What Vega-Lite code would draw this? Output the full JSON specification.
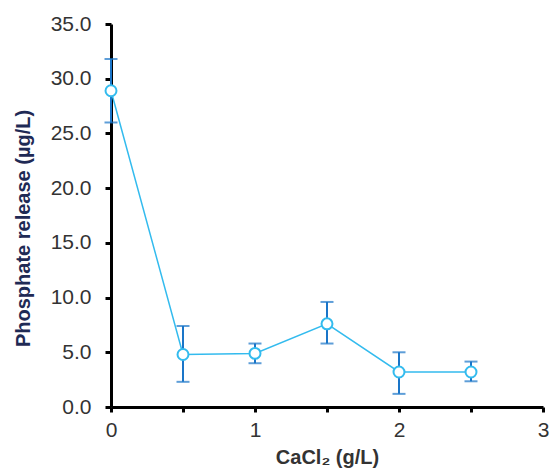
{
  "$schema": "https://vega.github.io/schema/vega-lite/v6.json",
  "width": 432,
  "height": 383,
  "autosize": {"type": "none"},
  "padding": {"left": 111, "top": 24, "right": 7, "bottom": 63},
  "background": "white",
  "config": {
    "view": {"stroke": null},
    "font": "Liberation Sans"
  },
  "data": {
    "values": [
      {"cacl2": 0, "release": 28.9, "low": 26.0, "high": 31.8},
      {"cacl2": 0.5, "release": 4.8, "low": 2.3, "high": 7.4},
      {"cacl2": 1, "release": 4.9, "low": 4.0, "high": 5.8},
      {"cacl2": 1.5, "release": 7.6, "low": 5.8, "high": 9.6},
      {"cacl2": 2, "release": 3.2, "low": 1.2, "high": 5.0},
      {"cacl2": 2.5, "release": 3.2, "low": 2.35, "high": 4.15}
    ]
  },
  "encoding": {
    "x": {
      "field": "cacl2",
      "type": "quantitative",
      "scale": {"domain": [0, 3], "nice": false, "zero": false},
      "axis": {
        "title": "CaCl₂ (g/L)",
        "values": [0, 0.5, 1, 1.5, 2, 2.5, 3],
        "labelExpr": "datum.value % 1 === 0 ? format(datum.value, 'd') : ''",
        "labelFlush": false,
        "labelOverlap": false,
        "grid": false,
        "domainColor": "black",
        "domainWidth": 3,
        "tickColor": "black",
        "tickWidth": 3,
        "tickSize": 5,
        "labelFontSize": 21,
        "labelColor": "#333333",
        "labelPadding": 7,
        "titleFontSize": 20,
        "titleFontWeight": "bold",
        "titleColor": "#333333",
        "titleY": 56,
        "titleBaseline": "alphabetic"
      }
    }
  },
  "layer": [
    {
      "mark": {"type": "rule", "color": "#1A75C8", "strokeWidth": 2},
      "encoding": {
        "y": {"field": "low", "type": "quantitative"},
        "y2": {"field": "high"}
      }
    },
    {
      "mark": {"type": "tick", "color": "#1A75C8", "thickness": 2, "size": 13, "orient": "horizontal"},
      "encoding": {"y": {"field": "low", "type": "quantitative"}}
    },
    {
      "mark": {"type": "tick", "color": "#1A75C8", "thickness": 2, "size": 13, "orient": "horizontal"},
      "encoding": {"y": {"field": "high", "type": "quantitative"}}
    },
    {
      "mark": {"type": "line", "color": "#33BBEE", "strokeWidth": 1.5},
      "encoding": {
        "y": {
          "field": "release",
          "type": "quantitative",
          "scale": {"domain": [0, 35], "nice": false},
          "axis": {
            "title": "Phosphate release (µg/L)",
            "values": [0, 5, 10, 15, 20, 25, 30, 35],
            "format": ".1f",
            "labelFlush": false,
            "grid": false,
            "domainColor": "black",
            "domainWidth": 3,
            "tickColor": "black",
            "tickWidth": 3,
            "tickSize": 6,
            "labelFontSize": 21,
            "labelColor": "#333333",
            "labelPadding": 14,
            "titleFontSize": 20,
            "titleFontWeight": "bold",
            "titleColor": "#1F2A55",
            "titleAngle": -90,
            "titleX": -88,
            "titleY": 204,
            "titleAlign": "center",
            "titleBaseline": "middle"
          }
        }
      }
    },
    {
      "mark": {"type": "point", "shape": "circle", "filled": true, "fill": "white", "stroke": "#33BBEE", "strokeWidth": 2, "size": 120, "opacity": 1},
      "encoding": {"y": {"field": "release", "type": "quantitative"}}
    }
  ]
}
